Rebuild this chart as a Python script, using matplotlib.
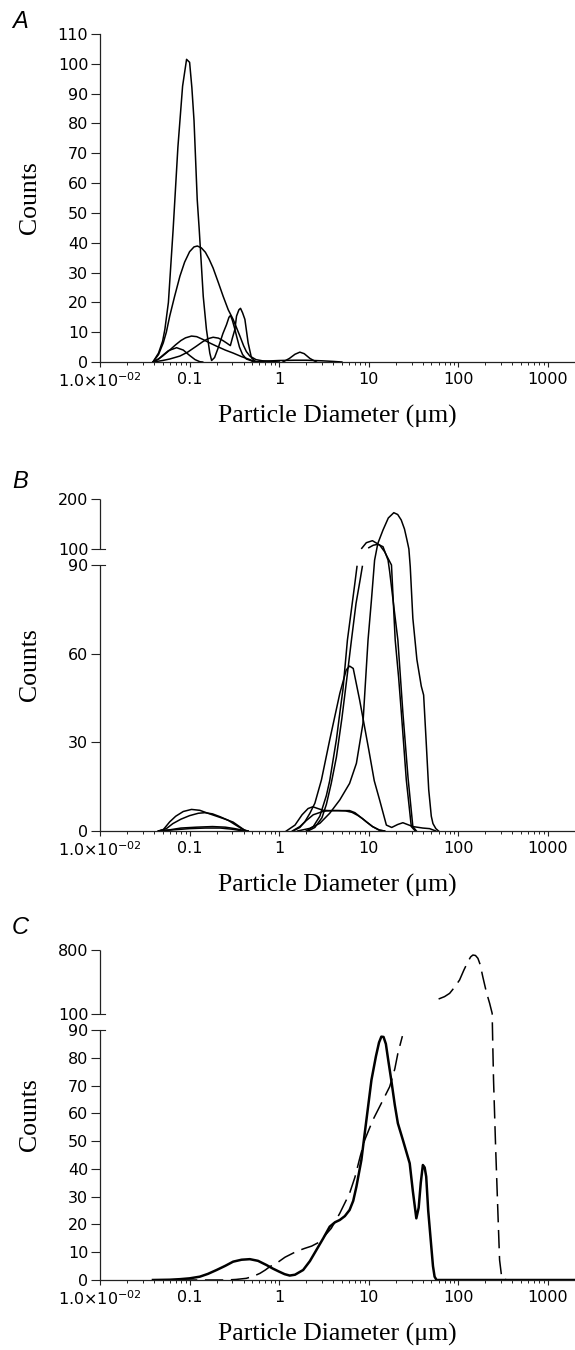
import numpy as np
import matplotlib
matplotlib.use("Agg")
import matplotlib.pyplot as plt
from matplotlib.ticker import LogLocator, NullFormatter, FixedLocator, FixedFormatter
from matplotlib.transforms import blended_transform_factory

nan = np.nan

# ---------------- data: panel A (diameter in um, counts) ----------------
a1_d = [0.039, 0.045, 0.05, 0.053, 0.058, 0.0655, 0.074, 0.0835, 0.0925, 0.1, 0.106, 0.112, 0.1216, 0.128,
        0.135, 0.142, 0.154, 0.168, 0.176, 0.19, 0.21, 0.235, 0.258, 0.275, 0.286, 0.30, 0.32, 0.334, 0.36,
        0.39, 0.43, 0.5, 0.6]
a1_v = [0, 3, 7, 11, 20, 44.5, 72, 92.5, 101.5, 100.5, 92, 81, 54.5, 44.5,
        33, 22, 11, 3, 0.5, 1.5, 5, 9.5, 12.5, 15, 15.6, 14, 11, 8.7, 5,
        2.5, 1, 0.3, 0]
a2_d = [0.039, 0.045, 0.0508, 0.055, 0.06, 0.068, 0.078, 0.088, 0.1, 0.112, 0.122, 0.135, 0.15, 0.165, 0.183,
        0.21, 0.237, 0.27, 0.306, 0.334, 0.364, 0.40, 0.43, 0.47, 0.55, 0.65, 0.8, 1.0]
a2_v = [0, 2.5, 6.4, 10, 15.4, 22, 28.8, 33.5, 37, 38.6, 38.9, 38.3, 36.8, 34.5, 31.5,
        26.5, 22, 17.5, 14.3, 11.5, 8.7, 5.5, 3.5, 2, 0.8, 0.4, 0.2, 0]
a3_d = [0.039, 0.045, 0.05, 0.06, 0.07, 0.08, 0.09, 0.105, 0.12, 0.14, 0.17, 0.2, 0.25, 0.306, 0.38, 0.47, 0.55]
a3_v = [0, 1, 2, 4, 5.8, 7.2, 8.1, 8.7, 8.5, 7.6, 6.3, 5.3, 4.0, 3.0, 1.8, 0.8, 0]
a4_d = [0.039, 0.05, 0.06, 0.078, 0.095, 0.119, 0.14, 0.16, 0.183, 0.21, 0.235, 0.258, 0.285, 0.30, 0.32,
        0.334, 0.355, 0.37, 0.39, 0.414, 0.45, 0.49, 0.55]
a4_v = [0, 0.5, 1.0, 2, 3.3, 5.3, 6.8, 7.8, 8.3, 8.0, 7.2, 6.4, 5.5, 8, 10.9,
        15.4, 17.5, 18, 16.5, 14.3, 6.4, 1.4, 0]
a5_d = [0.039, 0.045, 0.05, 0.058, 0.0716, 0.085, 0.1, 0.115, 0.13, 0.14]
a5_v = [0, 1, 2.2, 3.8, 4.8, 4.0, 2.2, 0.8, 0.1, 0]
a6_d = [1.1, 1.3, 1.5, 1.7, 1.9, 2.2, 2.6]
a6_v = [0, 1.2, 2.6, 3.3, 2.8, 1.2, 0]
a7_d = [0.5, 0.7, 1.0, 1.5, 2.0, 3.0, 4.0, 5.0]
a7_v = [0, 0.3, 0.5, 0.6, 0.6, 0.4, 0.2, 0]

# ---------------- data: panel B ----------------
b1_d = [1.6, 2.2, 2.84, 3.66, 4.74, 6.1, 7.27, 8.6, 9.8, 10.7, 11.6, 12.6, 14.4, 16.5, 19, 21, 23, 25, 26.5,
        27.4, 28, 29, 31, 34.4, 38.5, 40.9, 43.7, 46.6, 49.8, 52, 56, 60]
b1_v = [0, 0.9, 2.6, 6, 10.5, 16.1, 22.9, 36.4, 64.6, 78.2, 93, 111, 138, 162, 172.6, 169, 158, 140, 120,
        108, 100, 89.4, 72, 58, 49, 46, 30, 14, 5, 2.5, 0.8, 0]
b2_d = [2.0, 2.4, 2.84, 3.36, 3.66, 3.99, 4.35, 4.75, 5.15, 5.77, 6.4, 7.0, 7.38, nan,
        8.34, 9.38, 10.96, 13.2, 15, 17.9, 19.7, 21.5, 23.1, 26.2, 29.8, 33]
b2_v = [0, 1.5, 5, 12, 17, 24, 31, 40, 48, 64.6, 75, 84, 89.5, nan,
        101.4, 112.6, 116.6, 108, 98.3, 90, 64.6, 52, 39.8, 17.3, 1.5, 0]
b3_d = [2.1, 2.5, 3.0, 3.36, 3.8, 4.35, 5.0, 5.6, 6.4, 7.2, 8.0, 8.47, nan,
        10.0, 11.2, 12.6, 14.4, 16.4, 17.1, 19, 21.1, 24, 27.4, 31, 34]
b3_v = [0, 1.2, 4.5, 9, 16, 25, 38, 50, 64.6, 77, 85, 89.5, nan,
        102.6, 107.5, 109.4, 104.6, 93, 87.7, 76, 64.6, 40, 18, 1.5, 0]
b4_d = [1.43, 1.7, 1.93, 2.2, 2.5, 2.96, 3.66, 4.75, 5.6, 6.1, 6.7, 7.9, 10, 11.5, 13.2, 15.7, 18, 21, 24,
        27, 31, 40, 47.7, 56]
b4_v = [0, 1.2, 3.1, 6, 9.4, 17.3, 30.8, 46.6, 54.5, 55.8, 55, 44.3, 27.4, 17, 10.5, 2, 1.2, 2.2, 2.8,
        2.2, 1.5, 1.0, 0.8, 0]
b5_d = [1.2, 1.5, 1.8, 2.1, 2.37, 2.7, 3.1, 3.6, 4.5, 5.5, 6.5, 7.5, 8.5, 9.4, 11, 13, 15]
b5_v = [0, 2, 5.5, 7.6, 8.2, 7.6, 7.0, 6.9, 6.9, 6.8, 6.3, 5.3, 4.2, 3.1, 1.5, 0.3, 0]
b6_d = [1.4, 1.7, 2.0, 2.4, 3.0, 3.36, 4, 5, 6.1, 7, 8, 9.4, 11, 13.2, 15]
b6_v = [0, 1.5, 3.5, 5.5, 6.5, 6.8, 6.9, 6.9, 6.9, 6.2, 4.8, 3.1, 1.5, 0.3, 0]
b7_d = [0.045, 0.051, 0.06, 0.07, 0.085, 0.105, 0.13, 0.16, 0.2, 0.25, 0.306, 0.36, 0.41, 0.45]
b7_v = [0, 0.5, 3.1, 5, 6.6, 7.3, 7.0, 6.0, 5.0, 4.0, 3.0, 1.5, 0.3, 0]
b8_d = [0.045, 0.055, 0.065, 0.08, 0.1, 0.125, 0.148, 0.18, 0.22, 0.27, 0.32, 0.38, 0.43]
b8_v = [0, 0.8, 2.5, 4.0, 5.2, 6.0, 6.2, 5.8, 4.8, 3.6, 2.2, 0.8, 0]
b9_d = [0.045, 0.06, 0.08, 0.12, 0.18, 0.25, 0.32, 0.4, 0.45]
b9_v = [0, 0.4, 1.0, 1.3, 1.5, 1.3, 0.8, 0.2, 0]
b10_d = [0.045, 0.06, 0.1, 0.15, 0.22, 0.3, 0.38, 0.42]
b10_v = [0, 0.3, 0.8, 1.0, 1.0, 0.6, 0.1, 0]

# ---------------- data: panel C ----------------
c_solid_d = [0.039, 0.06, 0.078, 0.1, 0.13, 0.16, 0.2, 0.25, 0.306, 0.38, 0.47, 0.58, 0.72, 0.85, 1.0, 1.15,
             1.31, 1.5, 1.85, 2.2, 2.6, 3.1, 3.66, 4.2, 4.74, 5.4, 6.1, 6.7, 7.27, 8.26, 9.4, 10.7, 12.0, 13.0,
             13.8, 14.6, 15.5, 16.5, 17.8, 19.5, 21.1, 24, 28.6, 31, 33.9, 36, 38, 40.1, 42, 43.7, 46, 49.8,
             52, 54.2, 57, 100, 2000]
c_solid_v = [0, 0.1, 0.3, 0.6, 1.2, 2.2, 3.6, 5.1, 6.6, 7.3, 7.5, 6.9, 5.4, 4.1, 3.0, 2.1,
             1.6, 1.9, 3.6, 6.8, 10.8, 15, 19.2, 20.8, 21.6, 23, 25.2, 28.5, 33.6, 43.2, 57.6, 72, 80.5, 85.5,
             87.6, 87.5, 85, 79, 72, 63, 56.4, 50.4, 42, 32, 22.2, 26, 35, 41.4, 40.5, 37.2, 25, 12,
             5, 1.2, 0, 0, 0]
c_dash_d = [0.039, 0.1, 0.2, 0.258, 0.33, 0.43, 0.52, 0.61, 0.7, 0.785, 0.93, 1.16, 1.56, 1.93, 2.3, 2.75,
            3.2, 3.81, 4.74, 6.1, 7.0, 8.0, 9.0, 11.1, 14.4, 17.1, 19.5, 21.1, 23.7, nan,
            60.1, 70, 79.8, 90, 103, 115, 127.6, 137, 145, 155, 165, 175, 187, 205, 223, 238, 242, 246.6,
            260, 276, 288, 305, 350, 2000]
c_dash_v = [0, 0, 0, 0, 0.2, 0.6, 1.4, 2.4, 3.6, 4.8, 6.0, 8.2, 10.3, 11.4, 12.2, 13.5,
            15.8, 18.6, 24, 31.2, 37, 44.4, 50.4, 57.6, 64.8, 69.6, 76, 81.6, 87.8, nan,
            264, 290, 326, 390, 472, 580, 672, 725, 745, 740, 709, 640, 508, 340, 217, 107, 84, 72,
            48, 24, 7.2, 0.6, 0, 0]

xticks = [0.01, 0.1, 1, 10, 100, 1000]
xticklabels = ["1.0\u00d710$^{\\mathregular{-02}}$", "0.1", "1", "10", "100", "1000"]
yticks_a = [0, 10, 20, 30, 40, 50, 60, 70, 80, 90, 100, 110]
yticks_b = [0, 30, 60, 90, 100, 200]
yticks_c = [0, 10, 20, 30, 40, 50, 60, 70, 80, 90, 100, 800]

# ---------------- figure ----------------
W, H = 575, 1350
fig = plt.figure(figsize=(W / 100, H / 100), dpi=100)
TICKFONT = "DejaVu Sans"
LABELFONT = "Liberation Serif"
AXC = "#222222"


def ax_at(l, t, r, b):
    return fig.add_axes([l / W, 1 - b / H, (r - l) / W, (b - t) / H])


def broken_scale(lo_pp, gap_px, hi_pp, lo_top=90.0, hi_bot=100.0):
    a = lo_top * lo_pp
    b = a + gap_px

    def fwd(v):
        v = np.asarray(v, float)
        return np.where(v <= lo_top, v * lo_pp,
                        np.where(v <= hi_bot, a + (v - lo_top) * gap_px / (hi_bot - lo_top),
                                 b + (v - hi_bot) * hi_pp))

    def inv(p):
        p = np.asarray(p, float)
        return np.where(p <= a, p / lo_pp,
                        np.where(p <= b, lo_top + (p - a) * (hi_bot - lo_top) / gap_px,
                                 hi_bot + (p - b) / hi_pp))
    return fwd, inv


def style(ax, yticks, ylim, broken=False):
    ax.set_xscale("log")
    ax.set_xlim(0.01, 2000)
    ax.set_ylim(*ylim)
    for s in ["top", "right"]:
        ax.spines[s].set_visible(False)
    ax.spines["bottom"].set_color(AXC)
    ax.spines["bottom"].set_linewidth(0.9)
    ax.spines["left"].set_color(AXC)
    ax.spines["left"].set_linewidth(0.9)
    ax.xaxis.set_major_locator(FixedLocator(xticks))
    ax.xaxis.set_major_formatter(FixedFormatter(xticklabels))
    ax.xaxis.set_minor_locator(LogLocator(base=10, subs=np.arange(2, 10), numticks=20))
    ax.xaxis.set_minor_formatter(NullFormatter())
    ax.yaxis.set_major_locator(FixedLocator(yticks))
    ax.set_yticklabels([str(t) for t in yticks])
    ax.tick_params(axis="y", length=6.2, width=0.8, pad=2.2, labelsize=11.5, color=AXC)
    ax.tick_params(axis="x", which="major", length=3.8, width=0.8, pad=3.2, labelsize=11.5, color=AXC)
    ax.tick_params(axis="x", which="minor", length=2.2, width=0.7, color=AXC)
    for lab in ax.get_xticklabels() + ax.get_yticklabels():
        lab.set_fontfamily(TICKFONT)
    ax.set_xlabel("Particle Diameter (\u03bcm)", fontsize=18.5, fontfamily=LABELFONT, va="center")
    ax.set_ylabel("Counts", fontsize=18.5, fontfamily=LABELFONT, va="center")
    h = ax.get_position().height * H
    ax.xaxis.set_label_coords(0.5, -54.0 / h)
    ax.yaxis.set_label_coords(-70.0 / 475.0, 0.5)
    if broken:
        ax.spines["left"].set_visible(False)
        tr = blended_transform_factory(ax.transAxes, ax.transData)
        ax.plot([0, 0], [ylim[0], 90], transform=tr, color=AXC, lw=0.9, clip_on=False, solid_capstyle="butt")
        ax.plot([0, 0], [100, ylim[1]], transform=tr, color=AXC, lw=0.9, clip_on=False, solid_capstyle="butt")
        for yv in (90, 100):
            ax.plot([0, 5.0 / 475], [yv, yv], transform=tr, color=AXC, lw=0.8, clip_on=False)


LW = 1.1
kw = dict(color="black", lw=LW, solid_joinstyle="round")

# Panel A
axA = ax_at(100, 34, 575, 362)
for d, v in [(a1_d, a1_v), (a2_d, a2_v), (a3_d, a3_v), (a4_d, a4_v), (a5_d, a5_v), (a6_d, a6_v), (a7_d, a7_v)]:
    axA.plot(d, v, **kw)
style(axA, yticks_a, (0, 110))

# Panel B
axB = ax_at(100, 499, 575, 831)
fB, iB = broken_scale(266.0 / 90.0, 16.0, 0.5)
axB.set_yscale("function", functions=(fB, iB))
for d, v in [(b1_d, b1_v), (b2_d, b2_v), (b3_d, b3_v), (b4_d, b4_v), (b5_d, b5_v), (b6_d, b6_v),
             (b7_d, b7_v), (b8_d, b8_v), (b9_d, b9_v), (b10_d, b10_v)]:
    axB.plot(d, v, **kw)
style(axB, yticks_b, (0, 200), broken=True)

# Panel C
axC = ax_at(100, 950, 575, 1280)
fC, iC = broken_scale(250.0 / 90.0, 16.0, 64.0 / 700.0)
axC.set_yscale("function", functions=(fC, iC))
axC.plot(c_solid_d, c_solid_v, color="black", lw=1.8, solid_joinstyle="round")
axC.plot(c_dash_d, c_dash_v, color="black", lw=1.1, dashes=(12, 5))
style(axC, yticks_c, (0, 800), broken=True)

for letter, y in [("A", 22), ("B", 482), ("C", 928)]:
    fig.text(12 / W, 1 - y / H, letter, fontsize=17, fontstyle="italic", fontfamily="Liberation Sans",
             va="center", ha="left")

fig.savefig("out.png", dpi=100)
